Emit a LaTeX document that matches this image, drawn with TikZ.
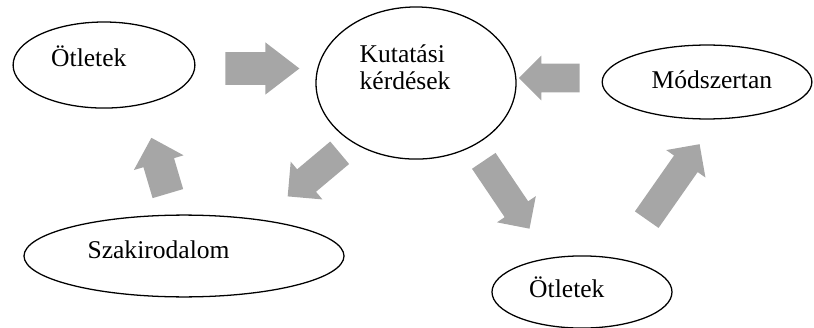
\documentclass[tikz,border=0pt]{standalone}
\usepackage{fontspec}
\setmainfont{Liberation Serif}
\usetikzlibrary{shapes.geometric,shapes.arrows}
\definecolor{arrgray}{RGB}{166,166,166}

\begin{document}
\begin{tikzpicture}[
  font=\fontsize{12}{12.5}\selectfont,
  oval/.style={ellipse, draw, line width=0.6pt, inner sep=0pt},
  blk/.style={single arrow, fill=arrgray, draw=none, anchor=tail, inner xsep=0pt, inner ysep=0.235cm, single arrow head extend=0.16cm},
]
  \useasboundingbox (0,0) rectangle (13.431,-5.412);
  % ovals
  \node[oval, minimum width=3.00cm, minimum height=1.42cm,
    label={[xshift=-0.25cm, yshift=0.15cm]center:Ötletek}] (O1) at (1.716,-1.073) {};
  \node[oval, minimum width=3.30cm, minimum height=2.51cm,
    label={[align=left, xshift=-0.18cm, yshift=0.26cm]center:{Kutatási\\kérdések}}] (KK) at (6.864,-1.370) {};
  \node[oval, minimum width=3.46cm, minimum height=1.22cm,
    label={[xshift=0.08cm, yshift=0.03cm]center:Módszertan}] (MT) at (11.666,-1.353) {};
  \node[oval, minimum width=5.28cm, minimum height=1.35cm,
    label={[xshift=-0.42cm, yshift=0.10cm]center:Szakirodalom}] (SZ) at (3.036,-4.224) {};
  \node[oval, minimum width=2.97cm, minimum height=1.19cm,
    label={[xshift=-0.25cm, yshift=0.08cm]center:Ötletek}] (O2) at (9.603,-4.818) {};
  % block arrows, placed by their tails
  \node[blk, minimum height=1.22cm, inner ysep=0.264cm, single arrow tip angle=75] (a1) at (3.713,-1.130) {};
  \node[blk, minimum height=1.00cm, inner ysep=0.231cm, single arrow head extend=0.132cm, rotate=180] (a2) at (9.570,-1.287) {};
  \node[blk, minimum height=1.12cm, single arrow head extend=0.165cm, rotate=220] (a3) at (5.610,-2.516) {};
  \node[blk, minimum height=0.96cm, inner ysep=0.256cm, single arrow head extend=0.165cm, rotate=106.5] (a4) at (2.772,-3.201) {};
  \node[blk, minimum height=1.35cm, inner ysep=0.227cm, single arrow head extend=0.153cm, rotate=-56] (a5) at (7.978,-2.648) {};
  \node[blk, minimum height=1.52cm, inner ysep=0.231cm, single arrow head extend=0.157cm, rotate=55] (a6) at (10.667,-3.630) {};
\end{tikzpicture}
\end{document}
